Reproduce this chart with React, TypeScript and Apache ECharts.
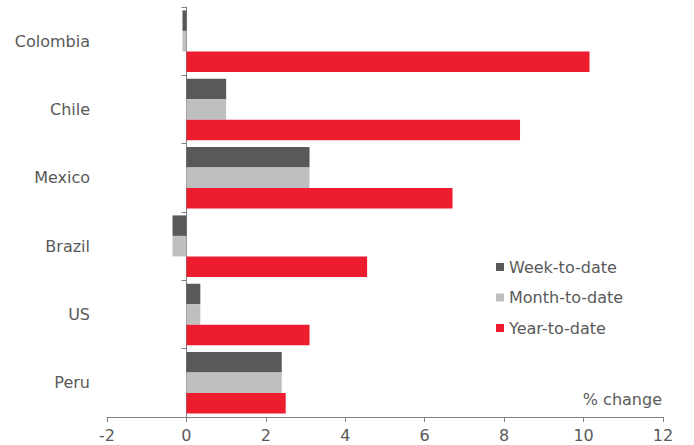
import React, { useEffect, useRef } from "react";
import * as echarts from "echarts";

const categories = ["Colombia", "Chile", "Mexico", "Brazil", "US", "Peru"];
const weekToDate = [-0.1, 1.0, 3.1, -0.35, 0.35, 2.4];
const monthToDate = [-0.1, 1.0, 3.1, -0.35, 0.35, 2.4];
const yearToDate = [10.15, 8.4, 6.7, 4.55, 3.1, 2.5];
const seriesNames = ["Week-to-date", "Month-to-date", "Year-to-date"];
const xTicks = { min: -2, max: 12, interval: 2 };

const FONT = "'DejaVu Sans', sans-serif";
const TEXT = "#595959";

export default function App() {
  const ref = useRef<HTMLDivElement>(null);
  useEffect(() => {
    if (!ref.current) return;
    const chart = echarts.init(ref.current, undefined, { renderer: "svg" });
    chart.setOption({
      animation: false,
      grid: { left: 107, right: 31, top: 7, bottom: 28, containLabel: false, outerBoundsMode: "none" },
      legend: {
        orient: "vertical",
        left: 491,
        top: 254,
        itemWidth: 8,
        itemHeight: 8,
        itemGap: 14.5,
        icon: "rect",
        textStyle: { fontFamily: FONT, fontSize: 16, color: TEXT },
        data: seriesNames,
      },
      xAxis: {
        type: "value",
        min: xTicks.min,
        max: xTicks.max,
        interval: xTicks.interval,
        splitLine: { show: false },
        axisLine: { show: true, lineStyle: { color: "#808080", width: 1 } },
        axisTick: { show: true, length: 5, lineStyle: { color: "#808080" } },
        axisLabel: { fontFamily: FONT, fontSize: 16, color: TEXT, margin: 10 },
      },
      yAxis: {
        type: "category",
        data: categories,
        inverse: true,
        axisLine: { show: true, onZero: true, lineStyle: { color: "#808080", width: 1 } },
        axisTick: { show: true, length: 5, lineStyle: { color: "#808080" } },
        axisLabel: { fontFamily: FONT, fontSize: 16, color: TEXT, margin: 17 },
      },
      graphic: [
        {
          type: "text",
          x: 662,
          y: 399,
          style: {
            text: "% change",
            font: `16px ${FONT}`,
            fill: TEXT,
            textAlign: "right",
            textVerticalAlign: "middle",
          },
        },
      ],
      series: [
        { name: seriesNames[0], type: "bar", data: weekToDate, itemStyle: { color: "#595959" }, barGap: "0%", barCategoryGap: "10%" },
        { name: seriesNames[1], type: "bar", data: monthToDate, itemStyle: { color: "#bfbfbf" }, barGap: "0%", barCategoryGap: "10%" },
        { name: seriesNames[2], type: "bar", data: yearToDate, itemStyle: { color: "#ed1c2e" }, barGap: "0%", barCategoryGap: "10%" },
      ],
    });
    return () => chart.dispose();
  }, []);
  return <div ref={ref} style={{ width: 694, height: 445, position: "absolute", left: 0, top: 0 }} />;
}
